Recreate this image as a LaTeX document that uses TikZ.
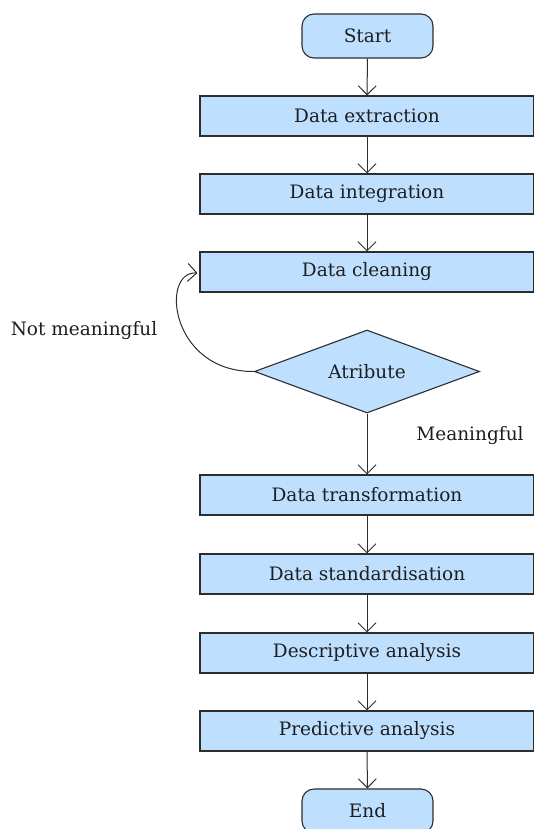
\documentclass[tikz,border=0pt]{standalone}
\usepackage{fontspec}
\setmainfont{DejaVu Serif}
\usetikzlibrary{shapes.geometric,arrows.meta}
\definecolor{boxfill}{RGB}{191,223,255}
\definecolor{boxline}{RGB}{45,45,45}
\definecolor{txt}{RGB}{30,30,30}
\begin{document}
\begin{tikzpicture}[x=1pt,y=-1pt,
  every node/.style={font=\fontsize{18.5}{22}\selectfont, text=txt},
  procbox/.style={draw=boxline, fill=boxfill, line width=1.1pt, minimum width=334pt, minimum height=40pt, inner sep=0pt},
  termbox/.style={draw=boxline, fill=boxfill, line width=1.1pt, minimum width=131pt, minimum height=44pt, rounded corners=12pt, inner sep=0pt},
  decbox/.style={draw=boxline, fill=boxfill, line width=1.1pt, shape=diamond, aspect=2.7, minimum width=225pt, minimum height=83pt, inner sep=0pt},
  flow/.style={draw=boxline, line width=1pt, -{Straight Barb[length=9pt,width=18pt]}},
  lbl/.style={inner sep=0pt}]
\useasboundingbox (0,0) rectangle (533,829);
\node[termbox] (start) at (367.5,36) {Start};
\node[procbox] (ext) at (367,116) {Data extraction};
\node[procbox] (int) at (367,194) {Data integration};
\node[procbox] (cln) at (367,272) {Data cleaning};
\node[decbox] (att) at (367,371.5) {Atribute};
\node[procbox] (trf) at (367,495) {Data transformation};
\node[procbox] (std) at (367,574) {Data standardisation};
\node[procbox] (dsc) at (367,653) {Descriptive analysis};
\node[procbox] (prd) at (367,731) {Predictive analysis};
\node[termbox] (end) at (367.5,811) {End};
\node[lbl] (nm) at (84,331) {Not meaningful};
\node[lbl] (mf) at (470,436) {Meaningful};
\draw[flow] (start) -- (ext);
\draw[flow] (ext) -- (int);
\draw[flow] (int) -- (cln);
\draw[flow] (att) -- (trf);
\draw[flow] (trf) -- (std);
\draw[flow] (std) -- (dsc);
\draw[flow] (dsc) -- (prd);
\draw[flow] (prd) -- (end);
\coordinate (loopend) at ([xshift=-2pt,yshift=-1pt]cln.west);
\draw[flow] (att.west) .. controls (170,372) and (160,271) .. (loopend);
\end{tikzpicture}
\end{document}
